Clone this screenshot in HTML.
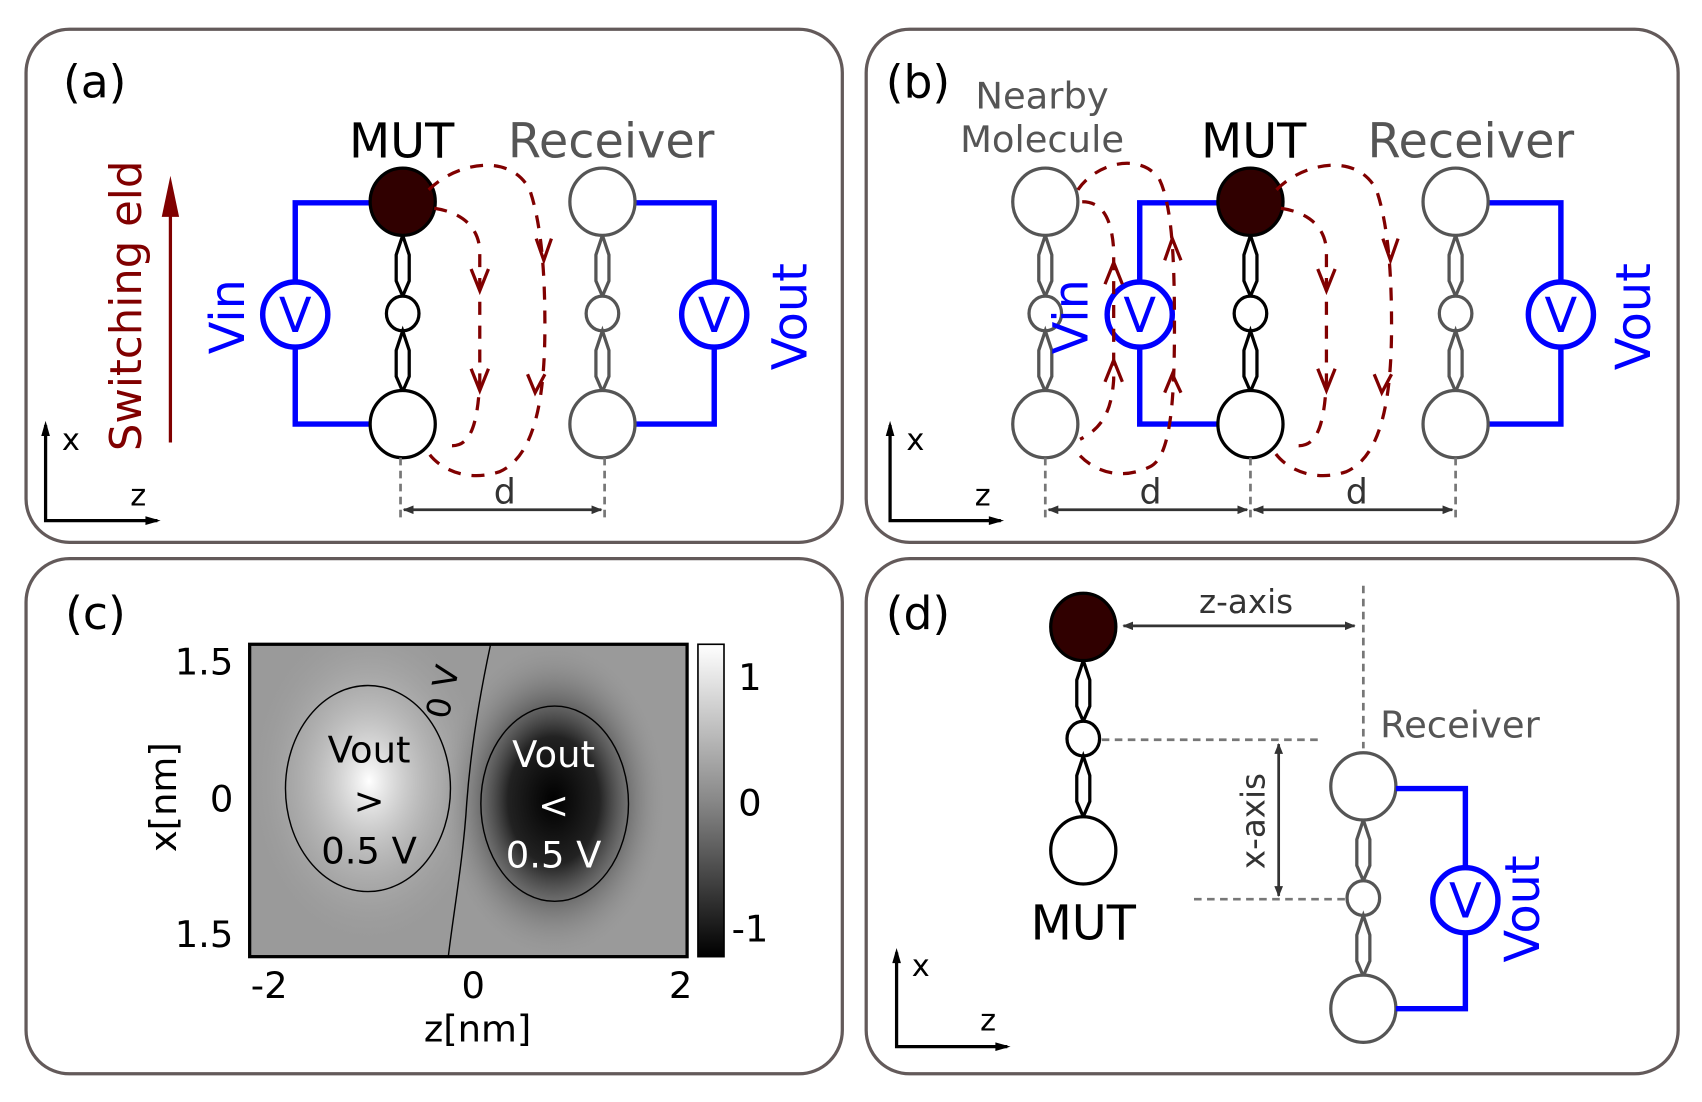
<!DOCTYPE html>
<html><head><meta charset="utf-8"><style>
html,body{margin:0;padding:0;background:#fff;width:1702px;height:1102px;overflow:hidden}
svg{display:block}
text{font-family:"DejaVu Sans","Liberation Sans",sans-serif}
</style></head><body>
<svg width="1702" height="1102" viewBox="0 0 1568 1016" preserveAspectRatio="none" xmlns="http://www.w3.org/2000/svg">
<defs>
<g id="link"><path d="M0,0 L-6,18 L-6,42 L0,56 L6,42 L6,18 Z" fill="none" stroke-width="3"/></g>
<g id="molB">
 <use href="#link" y="31" stroke="#000"/>
 <ellipse cx="0" cy="103" rx="15" ry="16" fill="#fff" stroke="#000" stroke-width="3"/>
 <use href="#link" y="119" stroke="#000"/>
</g>
<g id="molG">
 <use href="#link" y="31" stroke="#555"/>
 <ellipse cx="0" cy="103" rx="15" ry="16" fill="#fff" stroke="#555" stroke-width="3"/>
 <use href="#link" y="119" stroke="#555"/>
</g>
<marker id="ah" markerWidth="10" markerHeight="8" refX="9" refY="4" orient="auto" markerUnits="userSpaceOnUse"><path d="M0,0 L10,4 L0,8 Z" fill="#333"/></marker>
<marker id="ahs" markerWidth="10" markerHeight="8" refX="1" refY="4" orient="auto" markerUnits="userSpaceOnUse"><path d="M10,0 L0,4 L10,8 Z" fill="#333"/></marker>
<radialGradient id="wg" cx="340" cy="720" r="140" gradientUnits="userSpaceOnUse" gradientTransform="translate(340 720) scale(0.8 1.1) translate(-340 -720)">
 <stop offset="0" stop-color="#fff"/><stop offset="1" stop-color="#9a9a9a" stop-opacity="0"/></radialGradient>
<radialGradient id="bg" cx="510" cy="738" r="140" gradientUnits="userSpaceOnUse" gradientTransform="translate(510 738) scale(0.75 1.05) translate(-510 -738)">
 <stop offset="0" stop-color="#000"/><stop offset="0.4" stop-color="#222"/><stop offset="1" stop-color="#9a9a9a" stop-opacity="0"/></radialGradient>
<linearGradient id="cb" x1="0" y1="0" x2="0" y2="1"><stop offset="0" stop-color="#fff"/><stop offset="0.5" stop-color="#888"/><stop offset="1" stop-color="#000"/></linearGradient>
</defs>

<g fill="none" stroke="#635a5a" stroke-width="3">
<rect x="24" y="27" width="752" height="473" rx="40"/>
<rect x="798" y="27" width="748" height="473" rx="40"/>
<rect x="24" y="515" width="752" height="475" rx="40"/>
<rect x="798" y="515" width="748" height="475" rx="40"/>
</g>

<!-- Panel a -->
<text x="58" y="90" font-size="42">(a)</text>
<text x="370" y="145" font-size="44" text-anchor="middle">MUT</text>
<text x="563" y="145" font-size="44" text-anchor="middle" fill="#555">Receiver</text>
<g stroke="#0000ff" stroke-width="5" fill="none">
<path d="M342,187 H272 V391 H342"/><path d="M585,187 H658 V391 H585"/>
<circle cx="272" cy="290" r="30" fill="#fff"/><circle cx="658" cy="290" r="30" fill="#fff"/>
</g>
<text x="272" y="306" font-size="44" fill="#0000ff" text-anchor="middle">V</text>
<text x="658" y="306" font-size="44" fill="#0000ff" text-anchor="middle">V</text>
<text transform="translate(225 292) rotate(-90)" font-size="44" fill="#0000ff" text-anchor="middle">Vin</text>
<text transform="translate(743 292) rotate(-90)" font-size="44" fill="#0000ff" text-anchor="middle">Vout</text>
<use href="#molB" x="371" y="186"/>
<ellipse cx="371" cy="186" rx="30" ry="31" fill="#300000" stroke="#000" stroke-width="3"/>
<ellipse cx="371" cy="391" rx="30" ry="31" fill="#fff" stroke="#000" stroke-width="3"/>
<use href="#molG" x="555" y="186"/>
<ellipse cx="555" cy="186" rx="30" ry="31" fill="#fff" stroke="#555" stroke-width="3"/>
<ellipse cx="555" cy="391" rx="30" ry="31" fill="#fff" stroke="#555" stroke-width="3"/>
<line x1="157" y1="408" x2="157" y2="175" stroke="#800000" stroke-width="3"/>
<path d="M157,162 L149,200 L165,200 Z" fill="#800000"/>
<text transform="translate(130 282) rotate(-90)" font-size="40" fill="#800000" text-anchor="middle">Switching  eld</text>
<g fill="none" stroke="#800000" stroke-width="3" stroke-dasharray="12 10">
<path d="M395,175 C420,150 470,140 488,175 C500,210 502,260 502,300 C502,360 495,420 460,435 C430,445 405,432 395,418"/>
<path d="M400,192 C420,195 440,205 442,230 L442,350 C440,400 430,415 410,410"/>
</g>
<g fill="none" stroke="#800000" stroke-width="3">
<path d="M434,248 L442,268 L450,248"/><path d="M434,340 L442,360 L450,340"/>
<path d="M494,220 L501,240 L508,220"/><path d="M486,345 L493,362 L502,345"/>
</g>
<g stroke="#777" stroke-width="2.5" stroke-dasharray="7 5"><line x1="369" y1="422" x2="369" y2="480"/><line x1="557" y1="422" x2="557" y2="480"/></g>
<line x1="372" y1="470" x2="554" y2="470" stroke="#333" stroke-width="2.5" marker-end="url(#ah)" marker-start="url(#ahs)"/>
<text x="465" y="464" font-size="32" fill="#333" text-anchor="middle">d</text>
<path d="M42,392 V480 H145" fill="none" stroke="#000" stroke-width="3"/>
<path d="M42,388 L38,402 L46,402Z"/><path d="M148,480 L134,476 L134,484Z"/>
<text x="57" y="415" font-size="28">x</text><text x="120" y="466" font-size="28">z</text>

<!-- Panel b -->
<text x="816" y="90" font-size="42">(b)</text>
<text x="960" y="100" font-size="34" fill="#555" text-anchor="middle">Nearby</text>
<text x="960" y="140" font-size="34" fill="#555" text-anchor="middle">Molecule</text>
<text x="1155" y="145" font-size="44" text-anchor="middle">MUT</text>
<text x="1355" y="145" font-size="44" text-anchor="middle" fill="#555">Receiver</text>
<use href="#molG" x="963" y="186"/>
<ellipse cx="963" cy="186" rx="30" ry="31" fill="#fff" stroke="#555" stroke-width="3"/>
<ellipse cx="963" cy="391" rx="30" ry="31" fill="#fff" stroke="#555" stroke-width="3"/>
<g stroke="#0000ff" stroke-width="5" fill="none">
<path d="M1122,187 H1050 V391 H1122"/><path d="M1370,187 H1438 V391 H1370"/>
<circle cx="1050" cy="290" r="30" fill="#fff"/><circle cx="1438" cy="290" r="30" fill="#fff"/>
</g>
<text x="1050" y="306" font-size="44" fill="#0000ff" text-anchor="middle">V</text>
<text x="1438" y="306" font-size="44" fill="#0000ff" text-anchor="middle">V</text>
<text transform="translate(1002 292) rotate(-90)" font-size="44" fill="#0000ff" text-anchor="middle">Vin</text>
<text transform="translate(1520 292) rotate(-90)" font-size="44" fill="#0000ff" text-anchor="middle">Vout</text>
<use href="#molB" x="1152" y="186"/>
<ellipse cx="1152" cy="186" rx="30" ry="31" fill="#300000" stroke="#000" stroke-width="3"/>
<ellipse cx="1152" cy="391" rx="30" ry="31" fill="#fff" stroke="#000" stroke-width="3"/>
<use href="#molG" x="1341" y="186"/>
<ellipse cx="1341" cy="186" rx="30" ry="31" fill="#fff" stroke="#555" stroke-width="3"/>
<ellipse cx="1341" cy="391" rx="30" ry="31" fill="#fff" stroke="#555" stroke-width="3"/>
<g fill="none" stroke="#800000" stroke-width="3" stroke-dasharray="12 10">
<path d="M1176,175 C1200,150 1250,140 1268,175 C1280,210 1282,260 1282,300 C1282,360 1275,420 1240,435 C1210,445 1185,432 1175,418"/>
<path d="M1180,192 C1200,195 1220,205 1222,230 L1222,350 C1220,400 1210,415 1190,410"/>
<path d="M993,175 C1010,150 1050,140 1068,165 C1080,190 1082,240 1082,300 C1082,360 1080,420 1060,430 C1030,445 1005,432 993,418"/>
<path d="M997,186 C1015,186 1024,200 1026,230 L1026,350 C1024,380 1015,395 995,405"/>
</g>
<g fill="none" stroke="#800000" stroke-width="3">
<path d="M1214,248 L1222,268 L1230,248"/><path d="M1214,340 L1222,360 L1230,340"/>
<path d="M1274,220 L1281,240 L1288,220"/><path d="M1266,345 L1273,362 L1282,345"/>
<path d="M1018,262 L1026,242 L1034,262"/><path d="M1018,352 L1026,332 L1034,352"/>
<path d="M1073,240 L1080,220 L1088,240"/><path d="M1073,362 L1080,345 L1088,362"/>
</g>
<g stroke="#777" stroke-width="2.5" stroke-dasharray="7 5"><line x1="963" y1="422" x2="963" y2="480"/><line x1="1152" y1="422" x2="1152" y2="480"/><line x1="1341" y1="422" x2="1341" y2="480"/></g>
<line x1="966" y1="470" x2="1149" y2="470" stroke="#333" stroke-width="2.5" marker-end="url(#ah)" marker-start="url(#ahs)"/>
<line x1="1155" y1="470" x2="1338" y2="470" stroke="#333" stroke-width="2.5" marker-end="url(#ah)" marker-start="url(#ahs)"/>
<text x="1060" y="464" font-size="32" fill="#333" text-anchor="middle">d</text>
<text x="1250" y="464" font-size="32" fill="#333" text-anchor="middle">d</text>
<path d="M820,392 V480 H922" fill="none" stroke="#000" stroke-width="3"/>
<path d="M820,388 L816,402 L824,402Z"/><path d="M925,480 L911,476 L911,484Z"/>
<text x="835" y="415" font-size="28">x</text><text x="898" y="466" font-size="28">z</text>

<!-- Panel c -->
<text x="60" y="580" font-size="42">(c)</text>
<rect x="230" y="594" width="403" height="288" fill="#9a9a9a"/>
<rect x="230" y="594" width="403" height="288" fill="url(#wg)"/>
<rect x="230" y="594" width="403" height="288" fill="url(#bg)"/>
<rect x="230" y="594" width="403" height="288" fill="none" stroke="#000" stroke-width="3"/>
<ellipse cx="339" cy="727" rx="76" ry="95" fill="none" stroke="#000" stroke-width="1.3"/>
<ellipse cx="511" cy="741" rx="68" ry="90" fill="none" stroke="#000" stroke-width="1.3"/>
<path d="M452,594 C440,650 433,700 430,740 C427,790 418,840 413,882" fill="none" stroke="#000" stroke-width="1.3"/>
<text transform="translate(418 640) rotate(-78)" font-size="30" text-anchor="middle">0 V</text>
<g font-size="34" text-anchor="middle">
<text x="340" y="703">Vout</text><text x="340" y="750">&gt;</text><text x="340" y="796">0.5 V</text>
<text x="510" y="707" fill="#fff">Vout</text><text x="510" y="754" fill="#fff">&lt;</text><text x="510" y="800" fill="#fff">0.5 V</text>
</g>
<rect x="643" y="594" width="24" height="288" fill="url(#cb)" stroke="#000" stroke-width="1.5"/>
<g font-size="34">
<text x="215" y="622" text-anchor="end">1.5</text><text x="215" y="748" text-anchor="end">0</text><text x="215" y="873" text-anchor="end">1.5</text>
<text x="248" y="920" text-anchor="middle">-2</text><text x="436" y="920" text-anchor="middle">0</text><text x="627" y="920" text-anchor="middle">2</text>
<text x="440" y="960" text-anchor="middle">z[nm]</text>
<text transform="translate(162 735) rotate(-90)" text-anchor="middle">x[nm]</text>
<text x="680" y="636">1</text><text x="680" y="752">0</text><text x="674" y="868">-1</text>
</g>

<!-- Panel d -->
<text x="816" y="580" font-size="42">(d)</text>
<use href="#molB" x="998" y="578"/>
<ellipse cx="998" cy="578" rx="30" ry="31" fill="#300000" stroke="#000" stroke-width="3"/>
<ellipse cx="998" cy="784" rx="30" ry="31" fill="#fff" stroke="#000" stroke-width="3"/>
<text x="998" y="866" font-size="44" text-anchor="middle">MUT</text>
<text x="1345" y="680" font-size="34" fill="#555" text-anchor="middle">Receiver</text>
<use href="#molG" x="1256" y="725"/>
<ellipse cx="1256" cy="725" rx="30" ry="31" fill="#fff" stroke="#555" stroke-width="3"/>
<ellipse cx="1256" cy="930" rx="30" ry="31" fill="#fff" stroke="#555" stroke-width="3"/>
<g stroke="#777" stroke-width="2.5" stroke-dasharray="7 5">
<line x1="1256" y1="540" x2="1256" y2="690"/><line x1="1015" y1="682" x2="1218" y2="682"/><line x1="1100" y1="829" x2="1240" y2="829"/></g>
<line x1="1035" y1="577" x2="1248" y2="577" stroke="#333" stroke-width="2.5" marker-end="url(#ah)" marker-start="url(#ahs)"/>
<text x="1148" y="565" font-size="30" fill="#333" text-anchor="middle">z-axis</text>
<line x1="1178" y1="686" x2="1178" y2="826" stroke="#333" stroke-width="2.5" marker-end="url(#ah)" marker-start="url(#ahs)"/>
<text transform="translate(1165 757) rotate(-90)" font-size="30" fill="#333" text-anchor="middle">x-axis</text>
<g stroke="#0000ff" stroke-width="5" fill="none">
<path d="M1286,727 H1350 V930 H1286"/><circle cx="1350" cy="830" r="30" fill="#fff"/></g>
<text x="1350" y="846" font-size="44" fill="#0000ff" text-anchor="middle">V</text>
<text transform="translate(1418 838) rotate(-90)" font-size="44" fill="#0000ff" text-anchor="middle">Vout</text>
<path d="M826,878 V965 H928" fill="none" stroke="#000" stroke-width="3"/>
<path d="M826,874 L822,888 L830,888Z"/><path d="M931,965 L917,961 L917,969Z"/>
<text x="840" y="900" font-size="28">x</text><text x="903" y="950" font-size="28">z</text>
</svg>
</body></html>
